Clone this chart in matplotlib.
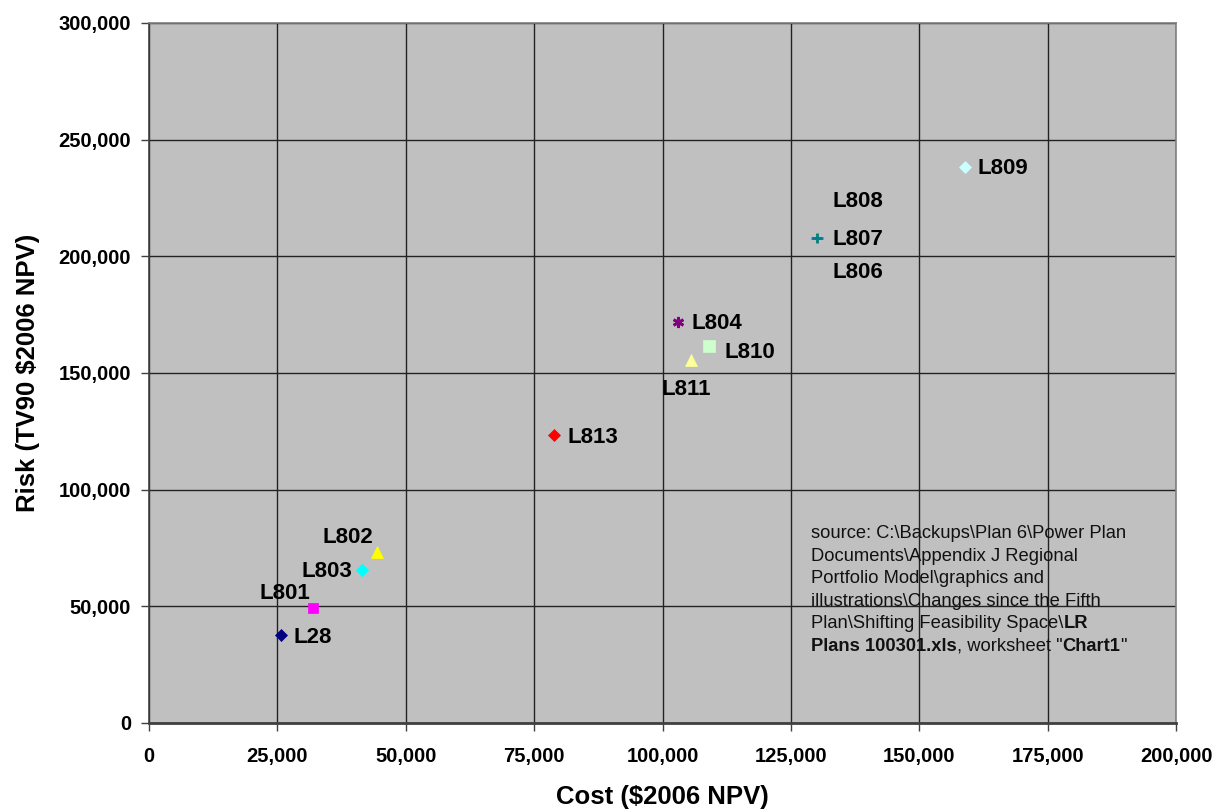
import matplotlib.pyplot as plt
from matplotlib.ticker import FuncFormatter, MultipleLocator
from matplotlib.offsetbox import TextArea, HPacker, VPacker, AnnotationBbox

plt.rcParams['font.family'] = ['Liberation Sans', 'DejaVu Sans']

# Cost / risk results per plan
plans = ['L28', 'L801', 'L802', 'L803', 'L804', 'L806', 'L807', 'L808',
         'L809', 'L810', 'L811', 'L813']
cost = [25700, 31900, 44400, 41500, 103000, 130100, 130100, 130100,
        158900, 109000, 105500, 78900]
risk = [37700, 49300, 73300, 65600, 171900, 207900, 207900, 207900,
        238300, 161600, 155600, 123400]

# marker style for each plan: (marker, face colour, edge colour, size)
styles = {
    'L28': ('D', '#000080', '#000080', 6),
    'L801': ('s', '#FF00FF', '#FF00FF', 7),
    'L802': ('^', '#FFFF00', '#FFFF00', 8),
    'L803': ('D', '#00FFFF', '#00FFFF', 6),
    'L804': ((6, 2, 0), '#800080', '#800080', 8),
    'L806': ('o', 'none', 'none', 6),
    'L807': ('_', '#00CCFF', '#3366FF', 8),
    'L808': ('+', '#008080', '#008080', 7),
    'L809': ('D', '#CCFFFF', '#CCFFFF', 6),
    'L810': ('s', '#CCFFCC', '#CCFFCC', 8),
    'L811': ('^', '#FFFF99', '#FFFF99', 8),
    'L813': ('D', '#FF0000', '#FF0000', 6),
}

# label placement in pixels from the point
label_pos = {
    'L28': (13, -2, 'left'),
    'L801': (-3, 14, 'right'),
    'L802': (-4, 14, 'right'),
    'L803': (-10, -2, 'right'),
    'L804': (14, -2, 'left'),
    'L806': (15, -35, 'left'),
    'L807': (15, -2, 'left'),
    'L808': (15, 36, 'left'),
    'L809': (13, -2, 'left'),
    'L810': (16, -7, 'left'),
    'L811': (-4, -30, 'center'),
    'L813': (13, -2, 'left'),
}

# source note, as (text, bold) pieces per line
note_lines = [
    [('source: C:\\Backups\\Plan 6\\Power Plan', False)],
    [('Documents\\Appendix J Regional', False)],
    [('Portfolio Model\\graphics and', False)],
    [('illustrations\\Changes since the Fifth', False)],
    [('Plan\\Shifting Feasibility Space\\', False), ('LR', True)],
    [('Plans 100301.xls', True), (', worksheet "', False), ('Chart1', True),
     ('"', False)],
]

fig = plt.figure(figsize=(12.2, 8.11), dpi=100)
ax = fig.add_axes([149 / 1220, 88 / 811, 1027 / 1220, 700 / 811])
ax.set_facecolor('#C0C0C0')

for name, x, y in zip(plans, cost, risk):
    m, fc, ec, ms = styles[name]
    lw = 2 if m in ('+', '_', (6, 2, 0)) else 0.5
    ax.plot(x, y, marker=m, markersize=ms, markerfacecolor=fc,
            markeredgecolor=ec if m not in ('+', (6, 2, 0)) else fc,
            markeredgewidth=lw, linestyle='none', zorder=3)
    dx, dy, ha = label_pos[name]
    ax.annotate(name, (x, y), xytext=(dx, dy), textcoords='offset pixels',
                ha=ha, va='center', fontsize=16, fontweight='bold', zorder=4)

ax.set_xlim(0, 200000)
ax.set_ylim(0, 300000)
ax.xaxis.set_major_locator(MultipleLocator(25000))
ax.yaxis.set_major_locator(MultipleLocator(50000))
fmt = FuncFormatter(lambda v, p: f'{int(v):,}')
ax.xaxis.set_major_formatter(fmt)
ax.yaxis.set_major_formatter(fmt)
ax.grid(True, color='#222222', linewidth=1.0)
ax.set_axisbelow(True)

for s in ax.spines.values():
    s.set_color('#808080')
    s.set_linewidth(1.2)
ax.spines['left'].set_color('#404040')
ax.spines['bottom'].set_color('#404040')
ax.spines['bottom'].set_linewidth(2)

ax.tick_params(direction='out', length=6, width=1, color='#404040',
               labelsize=14.5)
ax.tick_params(axis='x', pad=11)
ax.tick_params(axis='y', pad=7)
for lbl in ax.get_xticklabels() + ax.get_yticklabels():
    lbl.set_fontweight('bold')

ax.set_xlabel('Cost ($2006 NPV)', fontsize=18.5, fontweight='bold', labelpad=14)
ax.set_ylabel('Risk (TV90 $2006 NPV)', fontsize=18.5, fontweight='bold',
              labelpad=13)

rows = []
for line in note_lines:
    parts = [TextArea(t, textprops=dict(fontsize=13.2, color='#111111',
                                        fontweight='bold' if b else 'normal'))
             for t, b in line]
    rows.append(HPacker(children=parts, align='baseline', pad=0, sep=0))
note = VPacker(children=rows, align='left', pad=0, sep=4)
ab = AnnotationBbox(note, (811 / 1220, (811 - 525) / 811),
                    xycoords='figure fraction', box_alignment=(0, 1),
                    frameon=False, pad=0)
fig.add_artist(ab)

fig.savefig('out.png', dpi=100)
